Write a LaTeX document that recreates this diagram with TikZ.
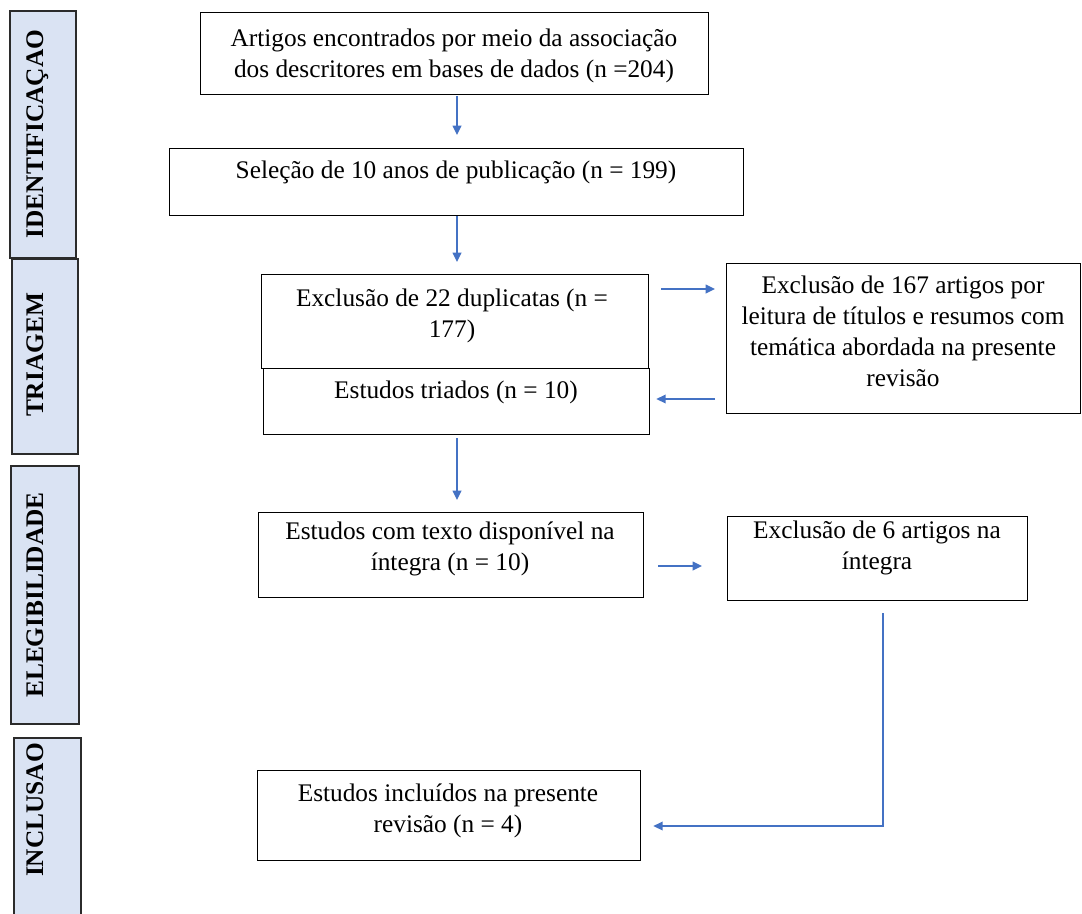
\documentclass[tikz,border=0pt]{standalone}
\usepackage{fontspec}
\setmainfont{Liberation Serif}
\usetikzlibrary{arrows.meta,calc}
\definecolor{arrblue}{HTML}{4472C4}
\definecolor{sidefill}{HTML}{DAE3F3}
\definecolor{sideline}{HTML}{2B2B2B}
\begin{document}
\begin{tikzpicture}[x=0.75pt,y=-0.75pt,
  bx/.style 2 args={minimum width={#1*0.75pt},minimum height={#2*0.75pt}},
  box/.style={draw=black,line width=1pt,rectangle,inner sep=0pt,anchor=north west},
  side/.style={draw=sideline,fill=sidefill,line width=1.5pt,rectangle,inner sep=0pt,anchor=north west},
  txt/.style={inner sep=0pt,align=center,anchor=north,font=\fontsize{19}{23.25}\selectfont},
  sidetxt/.style={inner sep=0pt,rotate=90,anchor=base,font=\fontsize{19}{23}\selectfont\bfseries},
  arr/.style={draw=arrblue,line width=1.1pt,-{Triangle[length=7pt,width=6.5pt]}}]
\useasboundingbox (0,0) rectangle (1082,914);
\clip (0,0) rectangle (1082,914);
% side bars
\node[side,bx={66}{247}] (s1) at (9,10) {};
\node[side,bx={66}{195}] (s2) at (11,258) {};
\node[side,bx={68}{258}] (s3) at (10,465) {};
\node[side,bx={67}{190}] (s4) at (13,737) {};
\node[sidetxt] (l1) at (43,134) {IDENTIFICAÇAO};
\node[sidetxt] (l2) at (43,355) {TRIAGEM};
\node[sidetxt] (l3) at (43,595) {ELEGIBILIDADE};
\node[sidetxt] (l4) at (43,810) {INCLUSAO};
% boxes
\node[box,bx={508}{82}] (b1) at (200,12) {};
\node[box,bx={574}{67}] (b2) at (169,148) {};
\node[box,bx={387}{94}] (b3) at (261,274) {};
\node[box,bx={386}{66}] (b4) at (263,368) {};
\node[box,bx={354}{150}] (b5) at (726,263) {};
\node[box,bx={385}{85}] (b6) at (258,512) {};
\node[box,bx={300}{84}] (b7) at (727,516) {};
\node[box,bx={383}{90}] (b8) at (257,770) {};
% texts
\node[txt] (t1) at (454,29) {Artigos encontrados por meio da associação\\dos descritores em bases de dados (n =204)};
\node[txt] (t2) at (456,161) {Seleção de 10 anos de publicação (n = 199)};
\node[txt] (t3) at (452,289) {Exclusão de 22 duplicatas (n =\\177)};
\node[txt] (t4) at (456,381) {Estudos triados (n = 10)};
\node[txt] (t5) at (903,276) {Exclusão de 167 artigos por\\leitura de títulos e resumos com\\temática abordada na presente\\revisão};
\node[txt] (t6) at (450,522) {Estudos com texto disponível na\\íntegra (n = 10)};
\node[txt] (t7) at (877,521) {Exclusão de 6 artigos na\\íntegra};
\node[txt] (t8) at (448,784) {Estudos incluídos na presente\\revisão (n = 4)};
% connectors
\coordinate (col) at (457,0);
\coordinate (r1) at (0,289);
\coordinate (r2) at (0,399);
\coordinate (r3) at (0,566);
\coordinate (lx) at (883,826);
\draw[arr,shorten <=0.75pt,shorten >=9.75pt] (b1.south -| col) -- (b2.north -| col);
\draw[arr,shorten >=9pt] (b2.south -| col) -- (b3.north -| col);
\draw[arr,shorten <=2.25pt,shorten >=9pt] (b4.south -| col) -- (b6.north -| col);
\draw[arr,shorten <=9pt,shorten >=8.25pt] (b3.east |- r1) -- (b5.west |- r1);
\draw[arr,shorten <=8.25pt,shorten >=4.5pt] (b5.west |- r2) -- (b4.east |- r2);
\draw[arr,shorten <=10.5pt,shorten >=18.75pt] (b6.east |- r3) -- (b7.west |- r3);
\draw[arr,shorten <=9pt,shorten >=9pt] (b7.south -| lx) |- (b8.east |- lx);
\end{tikzpicture}
\end{document}
